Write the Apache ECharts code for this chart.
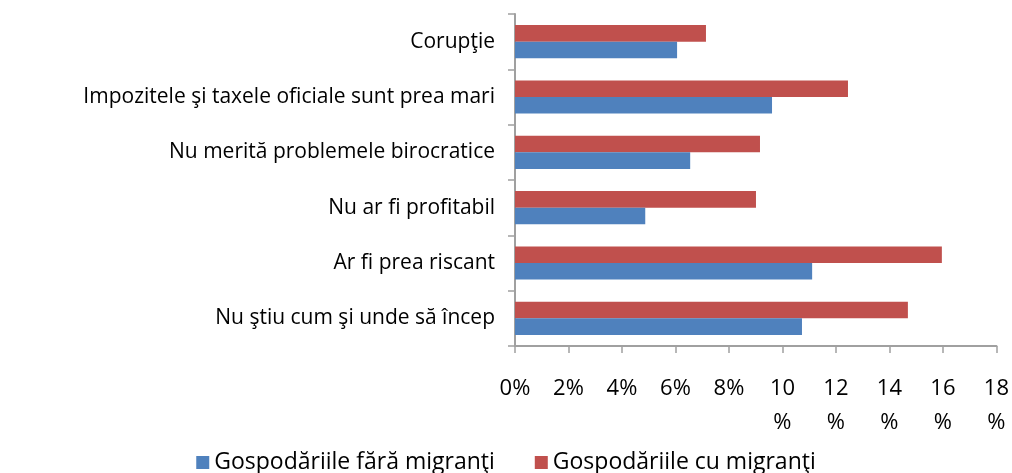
<!DOCTYPE html>
<html>
<head>
<meta charset="utf-8">
<script src="https://cdn.jsdelivr.net/npm/echarts@6/dist/echarts.min.js"></script>
<style>
  html, body { margin: 0; padding: 0; background: #fff; }
  #chart { width: 1012px; height: 473px; }
</style>
</head>
<body>
<div id="chart"></div>
<script>
// categories from bottom to top
var categories = [
  'Nu ştiu cum şi unde să încep',
  'Ar fi prea riscant',
  'Nu ar fi profitabil',
  'Nu merită problemele birocratice',
  'Impozitele şi taxele oficiale sunt prea mari',
  'Corupţie'
]
var seriesNames = ['Gospodăriile fără migranţi', 'Gospodăriile cu migranţi']
var faraMigranti = [10.73, 11.11, 4.87, 6.55, 9.61, 6.06]
var cuMigranti = [14.69, 15.96, 9.01, 9.16, 12.45, 7.14]

var font = 'Open Sans'
var chart = echarts.init(document.getElementById('chart'))

chart.setOption({
  animation: false,
  textStyle: { fontFamily: font },
  grid: {
    left: 515,
    right: 15,
    top: 14,
    bottom: 127
  },
  legend: {
    data: seriesNames,
    top: 446,
    left: 'center',
    itemWidth: 13,
    itemHeight: 13,
    itemGap: 40,
    icon: 'rect',
    textStyle: { fontSize: 23, color: '#000', fontFamily: font }
  },
  xAxis: {
    type: 'value',
    min: 0,
    max: 18,
    interval: 2,
    splitLine: { show: false },
    axisLine: { show: true, lineStyle: { color: '#A0A0A0', width: 2 } },
    axisTick: { show: true, length: 7, lineStyle: { color: '#A0A0A0', width: 1.5 } },
    axisLabel: {
      color: '#000',
      fontSize: 22,
      margin: 26,
      lineHeight: 34,
      verticalAlign: 'top',
      formatter: function (v) {
        return v < 10 ? v + '%' : v + '\n%'
      }
    }
  },
  yAxis: {
    type: 'category',
    data: categories,
    axisLine: { show: true, lineStyle: { color: '#A0A0A0', width: 2 } },
    axisTick: { show: true, length: 7, lineStyle: { color: '#A0A0A0', width: 1.5 } },
    axisLabel: { color: '#000', fontSize: 21, margin: 20 }
  },
  // red listed first so it sits above the blue bar in each pair
  series: [{
    name: seriesNames[1],
    type: 'bar',
    data: cuMigranti,
    barGap: 0,
    barCategoryGap: '40%',
    itemStyle: { color: '#C0504D' }
  }, {
    name: seriesNames[0],
    type: 'bar',
    data: faraMigranti,
    barGap: 0,
    barCategoryGap: '40%',
    itemStyle: { color: '#4F81BD' }
  }]
})
</script>
</body>
</html>
